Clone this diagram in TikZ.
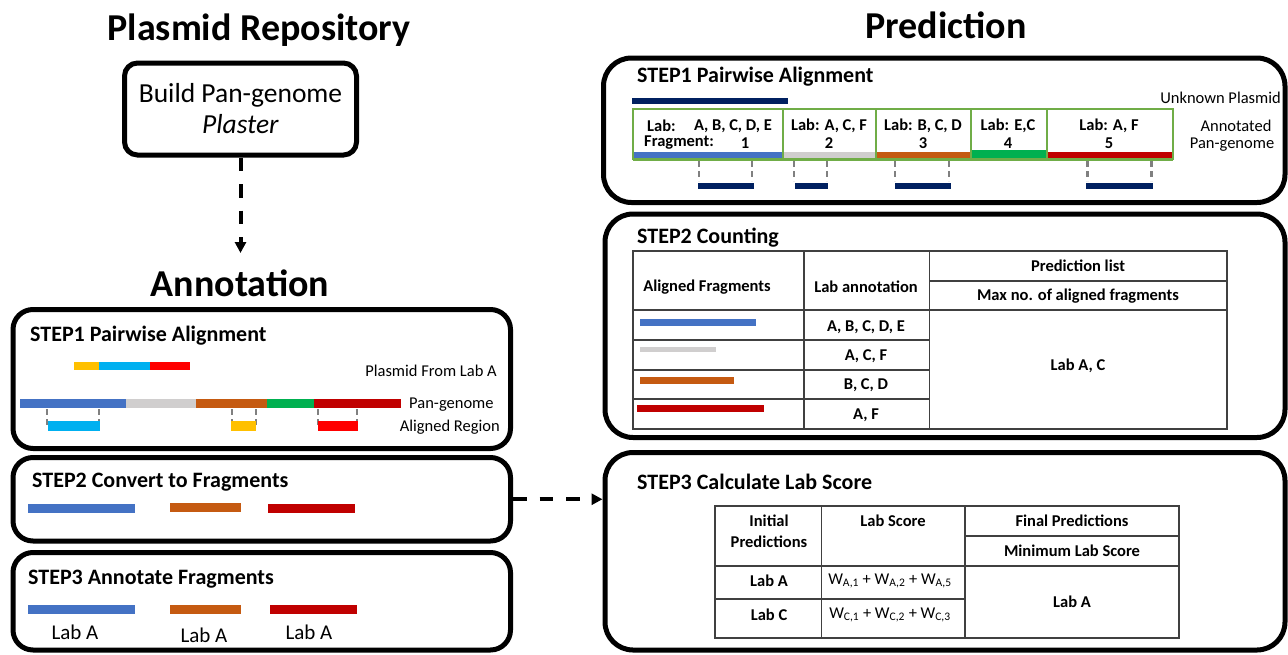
\documentclass[tikz,border=0pt]{standalone}
\usepackage{fontspec}
\setmainfont{Carlito}
\usetikzlibrary{arrows.meta}
\definecolor{cblue}{HTML}{4472C4}
\definecolor{cgrey}{HTML}{D0CECE}
\definecolor{cbrown}{HTML}{C55A11}
\definecolor{cgreen}{HTML}{00B050}
\definecolor{cdred}{HTML}{C00000}
\definecolor{cyellow}{HTML}{FFC000}
\definecolor{ccyan}{HTML}{00B0F0}
\definecolor{cred}{HTML}{FF0000}
\definecolor{cnavy}{HTML}{002060}
\definecolor{cgline}{HTML}{70AD47}
\definecolor{ctick}{HTML}{808080}
\definecolor{ctab}{HTML}{404040}
\tikzset{
  bigtitle/.style={font=\fontsize{38}{44}\selectfont\bfseries, inner sep=0},
  steptitle/.style={font=\fontsize{22}{26}\selectfont\bfseries, anchor=west, inner sep=0},
  bigbox/.style={draw, line width=5, rounded corners=20, inner sep=0},
  rbox/.style={draw, line width=5, rounded corners=28, inner sep=0},
  lbl/.style={font=\fontsize{16.5}{20}\selectfont, inner sep=0},
  lablbl/.style={font=\fontsize{21}{25}\selectfont, inner sep=0},
  tb/.style={font=\fontsize{16.5}{20}\selectfont\bfseries, inner sep=0},
  tr/.style={font=\fontsize{16.5}{20}\selectfont, inner sep=0},
  tline/.style={draw=ctab, line width=1.5},
  tick/.style={draw=ctick, line width=2.5, dash pattern=on 6pt off 4pt},
  gline/.style={draw=cgline, line width=2},
  darrow/.style={line width=4, dash pattern=on 13.5pt off 13pt, -{Triangle[length=11pt,width=11pt]}},
}
\begin{document}
\begin{tikzpicture}[x=1pt,y=-1pt]
\useasboundingbox (0,0) rectangle (1288,654);

% ---------------- Left side ----------------
\node[bigtitle] (t-repo) at (259,30) {Plasmid Repository};
\node[bigtitle] (t-annot) at (240,283) {Annotation};
\node[draw, line width=5, rounded corners=13, minimum width=232, minimum height=92, align=center,
      font=\fontsize{27.5}{31}\selectfont] (build) at (240.5,109) {Build Pan-genome\\\textit{Plaster}};
\coordinate (annot-top) at (240.5,253);
\draw[darrow] (build.south) -- (annot-top);

% STEP1 box
\node[bigbox, minimum width=497.5, minimum height=139] (l1) at (261.75,379) {};
\node[steptitle] (l1t) at (30,336) {STEP1 Pairwise Alignment};
\fill[cyellow] (74,362) rectangle (99,370);
\fill[ccyan] (99,362) rectangle (150,370);
\fill[cred] (150,362) rectangle (190,370);
\node[lbl, anchor=east] (l1a) at (497,371) {Plasmid From Lab A};
\fill[cblue] (20,399) rectangle (126,408);
\fill[cgrey] (126,399) rectangle (196,408);
\fill[cbrown] (196,399) rectangle (267,408);
\fill[cgreen] (267,399) rectangle (314,408);
\fill[cdred] (314,399) rectangle (401,408);
\node[lbl, anchor=west] (l1b) at (409,405) {Pan-genome};
\foreach \x in {47,99,232,256,318,357} \draw[tick] (\x,409) -- (\x,426);
\fill[ccyan] (48,421) rectangle (100,431);
\fill[cyellow] (231,421) rectangle (256,431);
\fill[cred] (318,421) rectangle (358,431);
\node[lbl, anchor=east] (l1c) at (500,427) {Aligned Region};

% STEP2 box
\node[bigbox, minimum width=497.5, minimum height=83.5] (l2) at (261.75,499.25) {};
\node[steptitle] (l2t) at (32,482) {STEP2 Convert to Fragments};
\fill[cblue] (28,504) rectangle (135,513);
\fill[cbrown] (170,503) rectangle (241,512);
\fill[cdred] (268,504) rectangle (355,513);

% STEP3 box
\node[bigbox, minimum width=497.5, minimum height=97.5] (l3) at (261.75,601.25) {};
\node[steptitle] (l3t) at (28,579) {STEP3 Annotate Fragments};
\fill[cblue] (28,605) rectangle (135,614);
\fill[cbrown] (170,605) rectangle (241,614);
\fill[cdred] (270,605) rectangle (357,614);
\node[lablbl] (la1) at (75,632) {Lab A};
\node[lablbl] (la2) at (204,635) {Lab A};
\node[lablbl] (la3) at (309,632) {Lab A};

% ---------------- Right side ----------------
\node[bigtitle] (t-pred) at (946,25) {Prediction};

% STEP1 (prediction)
\node[rbox, minimum width=681.5, minimum height=144.5] (r1) at (944.25,130.25) {};
\node[steptitle] (r1t) at (637,77) {STEP1 Pairwise Alignment};
\fill[cnavy] (632,98) rectangle (788,104);
\node[lbl, anchor=east] (r1u) at (1281,98) {Unknown Plasmid};
\fill[cblue] (633,152) rectangle (783,158);
\fill[cgrey] (783,152) rectangle (876,158);
\fill[cbrown] (876,152) rectangle (971,158);
\fill[cgreen] (971,150) rectangle (1047,158);
\fill[cdred] (1047,152) rectangle (1173,158);
\draw[gline] (633,109) rectangle (1173,159);
\foreach \x in {783,876,971,1047} \draw[gline] (\x,109) -- (\x,159);
\draw[draw=cgline, line width=3] (633,159.5) -- (1173,159.5);
\node[tb, anchor=west] (c1a) at (647,126) {Lab:};
\node[tb] (c1b) at (733,126) {A, B, C, D, E};
\node[tb, anchor=west] (c1c) at (644,143) {Fragment:};
\node[tb] (c1d) at (745,143) {1};
\node[tb] (c2a) at (829,126) {Lab: A, C, F};
\node[tb] (c2b) at (829,143) {2};
\node[tb] (c3a) at (923,126) {Lab: B, C, D};
\node[tb] (c3b) at (923,143) {3};
\node[tb] (c4a) at (1008,126) {Lab: E,C};
\node[tb] (c4b) at (1008,143) {4};
\node[tb] (c5a) at (1109,126) {Lab: A, F};
\node[tb] (c5b) at (1109,143) {5};
\node[lbl] (r1p) at (1236,126) {Annotated};
\node[lbl] (r1q) at (1232,145) {Pan-genome};
\foreach \x in {699,752,794,827,895,949,1087.5,1151.5} \draw[tick] (\x,161) -- (\x,181);
\fill[cnavy] (698,183) rectangle (754,189);
\fill[cnavy] (795,183) rectangle (828,189);
\fill[cnavy] (895,183) rectangle (951,189);
\fill[cnavy] (1086,183) rectangle (1153,189);

% STEP2 (counting)
\node[rbox, minimum width=680, minimum height=223.5] (r2) at (945,325.75) {};
\node[steptitle] (r2t) at (637,238) {STEP2 Counting};
\draw[tline] (633,251) rectangle (1227,429);
\draw[tline] (804,251) -- (804,429);
\draw[tline] (929.5,251) -- (929.5,429);
\draw[tline] (929.5,281) -- (1227,281);
\draw[tline] (633,310) -- (1227,310);
\foreach \y in {340,370,399} \draw[tline] (633,\y) -- (929.5,\y);
\node[tb] (h1) at (707,287) {Aligned Fragments};
\node[tb] (h2) at (866,287) {Lab annotation};
\node[tb] (h3) at (1078,266) {Prediction list};
\node[tb] (h4) at (1078,296) {Max no. of aligned fragments};
\fill[cblue] (639.5,319) rectangle (756,326);
\fill[cgrey] (640,347) rectangle (716,352);
\fill[cbrown] (640,377) rectangle (734,384);
\fill[cdred] (637,405) rectangle (764,412);
\node[tb] (a1) at (866,327) {A, B, C, D, E};
\node[tb] (a2) at (866,356) {A, C, F};
\node[tb] (a3) at (866,385) {B, C, D};
\node[tb] (a4) at (866,415) {A, F};
\node[tb] (pl) at (1078,366) {Lab A, C};

% STEP3 (score)
\node[rbox, minimum width=680, minimum height=197.5] (r3) at (945,551.25) {};
\node[steptitle] (r3t) at (637,482) {STEP3 Calculate Lab Score};
\draw[tline] (715,506) rectangle (1179,638);
\draw[tline] (821.5,506) -- (821.5,638);
\draw[tline] (965,506) -- (965,638);
\draw[tline] (965,536) -- (1179,536);
\draw[tline] (715,566) -- (1179,566);
\draw[tline] (715,599) -- (965,599);
\node[tb, align=center, font=\fontsize{16.5}{21}\selectfont\bfseries] (s1) at (769,531.5) {Initial\\Predictions};
\node[tb] (s2) at (893,521) {Lab Score};
\node[tb] (s3) at (1072,521) {Final Predictions};
\node[tb] (s4) at (1072,551) {Minimum Lab Score};
\node[tb] (s5) at (769,581) {Lab A};
\node[tb] (s6) at (769,615) {Lab C};
\node[tr] (s7) at (890,581) {W\textsubscript{A,1} + W\textsubscript{A,2} + W\textsubscript{A,5}};
\node[tr] (s8) at (890,615) {W\textsubscript{C,1} + W\textsubscript{C,2} + W\textsubscript{C,3}};
\node[tb] (s9) at (1072,602) {Lab A};

% connector between columns
\draw[darrow] (l2.east) -- (l2.east -| r3.west);
\end{tikzpicture}
\end{document}
